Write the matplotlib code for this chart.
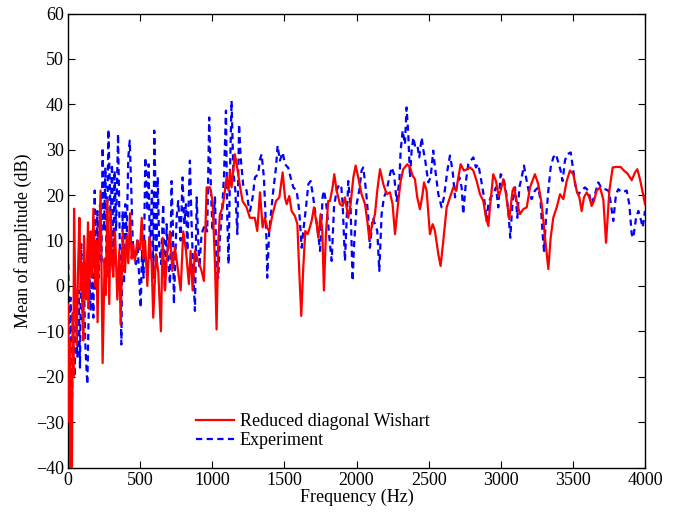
import matplotlib
matplotlib.use("Agg")
import matplotlib.pyplot as plt

plt.rcParams['font.family'] = ['Liberation Serif', 'DejaVu Serif']
plt.rcParams['font.size'] = 13

# Reduced diagonal Wishart (red solid)
red_f = [2, 8, 12, 17, 22, 27, 33, 37, 42, 50, 60, 70, 79, 88, 97, 106, 111, 118, 125, 132,
         139, 143, 150, 157, 166, 176, 187, 196, 205, 214, 226, 240, 254, 262, 273, 286, 296, 305, 314, 326,
         342, 356, 365, 379, 395, 407, 418, 430, 441, 452, 464, 480, 499, 511, 522, 534, 550, 564, 580, 591,
         610, 626, 644, 656, 672, 684, 707, 723, 741, 757, 781, 799, 818, 838, 850, 864, 880, 903, 926, 942,
         961, 984, 1002, 1019, 1030, 1042, 1053, 1072, 1088, 1100, 1113, 1123, 1134, 1157, 1173, 1192, 1210, 1238, 1261, 1273,
         1295, 1312, 1331, 1349, 1365, 1380, 1395, 1418, 1442, 1465, 1488, 1504, 1516, 1534, 1550, 1573, 1590, 1603, 1617, 1631,
         1645, 1661, 1673, 1689, 1705, 1724, 1735, 1751, 1763, 1774, 1788, 1804, 1816, 1834, 1846, 1862, 1874, 1885, 1904, 1920,
         1943, 1959, 1978, 1994, 2012, 2035, 2059, 2075, 2089, 2105, 2128, 2144, 2163, 2186, 2209, 2232, 2250, 2267, 2278, 2290,
         2306, 2324, 2352, 2371, 2389, 2405, 2421, 2440, 2458, 2468, 2486, 2509, 2528, 2544, 2567, 2583, 2602, 2625, 2648, 2671,
         2690, 2706, 2722, 2745, 2768, 2787, 2810, 2833, 2856, 2879, 2898, 2914, 2925, 2948, 2967, 2985, 2999, 3018, 3036, 3059,
         3082, 3092, 3110, 3133, 3156, 3180, 3203, 3237, 3260, 3284, 3307, 3330, 3346, 3364, 3388, 3411, 3434, 3457, 3480, 3503,
         3526, 3545, 3561, 3577, 3596, 3614, 3630, 3646, 3665, 3688, 3711, 3730, 3753, 3776, 3804, 3831, 3854, 3877, 3908, 3931,
         3947, 3965, 3984, 4000]
red_db = [-4, -30, -12, -42, -25, -42, -6, -20, 17, 0, -13, 4, 15, -1, 5, -12, 11, 2, -3, 6,
          14, -5, 3, 12, 2, 17, 0, 10, -8, 8, 21, -17, 6, -2, 19, -4, 16.5, 5, 2, 12,
          -3, 8, -8.5, 12, 3, 11, 5, 16, 6, 9, 5.5, 10, 8, 15, 6, 10, 0, 10.7, 5, -7,
          7, 3, -10, 10.6, -1, 6, 12, 3.3, 8.5, 4.8, -1, 12, 7.7, 0.4, 7.7, -1, 7.7, 5.5, 3.3, 1.1,
          21.7, 21.7, 18.7, 4.8, -9.6, 10, 15.8, 17.3, 21, 23.9, 21, 25.4, 21.7, 29, 26, 22, 18.7, 17.3, 15, 15,
          15, 12.1, 20.6, 12.9, 15, 12.9, 12, 15.8, 18.7, 19.5, 25, 19.5, 18, 19.8, 16.5, 15.4, 13.6, 3.3, -6.6, 4,
          12.1, 11.4, 12.5, 14.3, 17.3, 13.6, 10.6, 15.8, 12, -1, 11.4, 18.7, 18.7, 21.7, 24.6, 21, 19.5, 18, 17.6, 19.5,
          15, 18, 23.9, 26.5, 23.9, 20.2, 18, 14.3, 10.3, 12.9, 15.8, 21, 25.7, 22.4, 20.2, 20.6, 18, 11.4, 15, 18.7,
          23.1, 25.7, 26.8, 26.1, 24.3, 23.5, 19.5, 16.9, 20.2, 22.8, 21, 11.4, 13.6, 12.1, 7, 4.4, 10, 17.3, 19.5, 21.7,
          21, 23.9, 26.8, 25.4, 25.7, 26.1, 25.4, 23.1, 20.2, 18.7, 15, 13.2, 17.3, 24.6, 23.1, 19.8, 21, 23.5, 20.2, 14.7,
          21, 21.7, 18.7, 15.8, 16.9, 17.3, 21.7, 24.6, 22.4, 18, 10.6, 3.7, 10.6, 15, 17.3, 20.2, 19.1, 23.1, 25.4, 24.6,
          21, 19.5, 16.5, 19.5, 20.6, 19.5, 17.6, 18.7, 21, 21.7, 19, 9.5, 21, 26.1, 26.2, 26.2, 25.4, 24.8, 23.3, 25,
          25.7, 23.5, 20.6, 18]

# Experiment (blue dashed)
exp_f = [2, 9, 18, 28, 37, 46, 55, 65, 74, 83, 92, 102, 111, 120, 134, 148, 157, 166, 176, 185,
         194, 203, 213, 222, 231, 240, 250, 259, 268, 280, 296, 305, 314, 323, 333, 347, 356, 365, 370, 379,
         388, 397, 407, 418, 428, 439, 448, 457, 471, 481, 494, 504, 513, 524, 536, 550, 559, 568, 582, 592,
         598, 606, 612, 622, 632, 645, 660, 672, 684, 695, 707, 718, 728, 734, 753, 764, 781, 794, 806, 818,
         827, 845, 857, 868, 880, 892, 910, 926, 949, 965, 979, 991, 1002, 1019, 1030, 1042, 1053, 1065, 1081, 1095,
         1104, 1113, 1123, 1134, 1146, 1160, 1174, 1186, 1197, 1215, 1238, 1250, 1262, 1280, 1296, 1318, 1331, 1342, 1358, 1365,
         1377, 1381, 1395, 1411, 1423, 1442, 1453, 1469, 1488, 1504, 1527, 1543, 1562, 1585, 1603, 1620, 1631, 1650, 1666, 1682,
         1700, 1719, 1735, 1747, 1765, 1774, 1788, 1804, 1816, 1828, 1844, 1862, 1881, 1895, 1904, 1920, 1932, 1943, 1959, 1973,
         1982, 2001, 2019, 2035, 2047, 2066, 2082, 2093, 2112, 2128, 2144, 2158, 2174, 2190, 2209, 2227, 2244, 2260, 2278, 2297,
         2306, 2320, 2336, 2347, 2359, 2371, 2382, 2394, 2405, 2421, 2435, 2452, 2463, 2475, 2486, 2498, 2514, 2532, 2544, 2567,
         2590, 2606, 2630, 2648, 2666, 2683, 2694, 2713, 2729, 2740, 2759, 2775, 2791, 2810, 2828, 2844, 2861, 2884, 2902, 2914,
         2930, 2948, 2967, 2983, 2999, 3018, 3036, 3052, 3066, 3082, 3099, 3115, 3129, 3145, 3161, 3180, 3198, 3214, 3237, 3260,
         3276, 3290, 3300, 3314, 3330, 3346, 3364, 3383, 3399, 3415, 3429, 3445, 3461, 3485, 3503, 3522, 3538, 3561, 3584, 3607,
         3630, 3653, 3676, 3700, 3723, 3746, 3757, 3780, 3799, 3815, 3838, 3873, 3891, 3908, 3919, 3938, 3954, 3968, 3984, 4000]
exp_db = [4.8, -15.8, -2.6, -25, -8.5, -20, -4.8, -15.8, -1, -18, 9.2, -8.5, 0.4, -12.9, -21.7, 1.8, -5.5, 4.8, -7, 21,
          -1, 16.5, 1.8, 18, 4.8, 30.5, 12.1, 26.1, 1.8, 34.5, 14.3, 26.8, 4.8, 25.4, 12.1, 33.5, 15, -4, -12.9, 16.5,
          0.4, 18, 10.6, 28.3, 32, 21, 10.6, 6.2, 4.8, 10, 1.8, -4.8, 7.7, 1.8, 28.3, 16.5, 26.8, 6.2, 21, 1.8,
          34.2, 22, 4.8, 24, 9, 4.8, 18, -1, 13.6, 5, 0.4, 23.1, 12, -4, 15, 18.7, 10, 23.9, 13.6, 18,
          7.7, 27.6, 13.6, 3.3, -5.5, 19.5, 4, 11.4, 13.6, 12, 37.1, 21, 12.1, 19.5, 3.3, 1.8, 10.6, 15, 23.9, 38.6,
          15, 4.8, 25.4, 40.8, 25.4, 21, 11.4, 35.6, 28.3, 22, 21, 18, 16.5, 19.5, 23.9, 24.6, 27.9, 29, 23.9, 18.7,
          9.2, 1.8, 12.1, 17.3, 21, 26.1, 30.9, 27.6, 29.4, 26.8, 26, 23.9, 21.7, 21, 16.5, 8.4, 12.1, 17.3, 22.4, 23.1,
          19.5, 15, 11.4, 7.7, 19.5, 21, 18.7, 13.6, 9.2, 5.5, 17.3, 21, 22.4, 21.7, 18, 5.5, 15, 23.1, 17.3, 1.1,
          8.4, 18, 21, 25.4, 26.1, 21, 15, 8.4, 15, 13.6, 12.1, 3.3, 15.8, 19.5, 21, 23.9, 26.1, 24.6, 18.7, 23.1,
          29.8, 34.2, 31.2, 39.3, 33.4, 23.9, 29.8, 32.7, 30.9, 31.2, 28.3, 32.7, 30, 28, 25.4, 22.8, 23.9, 29.8, 26.1, 20.2,
          17.3, 19.5, 25.4, 28.7, 25.4, 19.5, 21.7, 23.9, 21.7, 15.8, 23.1, 26.8, 27.6, 28.3, 26.1, 26.8, 23.9, 19.5, 14.3, 18,
          19.5, 20.2, 21.7, 17.3, 24.6, 23.9, 21, 16.5, 10.6, 18.7, 21.7, 15, 21.7, 23.9, 26.5, 23.1, 20.2, 19.1, 21, 21.7,
          18.7, 11.4, 7.7, 15, 21, 26.1, 28.3, 29, 27.2, 25.4, 23.1, 27.6, 29, 29.4, 25.4, 21, 20.2, 21, 21.7, 21,
          18, 20.2, 22.8, 21.5, 21.3, 21, 19.5, 14.3, 20.2, 21.3, 20.6, 21, 18, 11.4, 10.6, 15, 16.5, 15, 12.9, 16.5]

x_ticks = [0, 500, 1000, 1500, 2000, 2500, 3000, 3500, 4000]
y_ticks = [-40, -30, -20, -10, 0, 10, 20, 30, 40, 50, 60]

fig = plt.figure(figsize=(6.83, 5.13), dpi=100)
ax = fig.add_axes([68/683, 1 - 467.5/513, (645-68)/683, (467.5-13.5)/513])

ax.plot(red_f, red_db, color=(1, 0, 0), lw=1.6, label='Reduced diagonal Wishart', zorder=3)
ax.plot(exp_f, exp_db, color=(0, 0, 1), lw=1.6, linestyle=(0, (2.8, 2.0)), label='Experiment', zorder=2)

ax.set_xlim(0, 4000)
ax.set_ylim(-40, 60)
ax.set_xticks(x_ticks)
ax.set_yticks(y_ticks)
ax.tick_params(direction='in', top=True, right=True, length=5, width=0.8, labelsize=13, pad=3)
for s in ax.spines.values():
    s.set_linewidth(1.0)
ax.set_xlabel('Frequency (Hz)', fontsize=13, labelpad=0)
ax.set_ylabel('Mean of amplitude (dB)', fontsize=13, labelpad=3)

ax.legend(loc='lower left', bbox_to_anchor=(0.21, 0.025), frameon=False, fontsize=13,
          handlelength=2.1, handletextpad=0.3, labelspacing=0.1, borderaxespad=0)

fig.savefig('out.png', dpi=100)
